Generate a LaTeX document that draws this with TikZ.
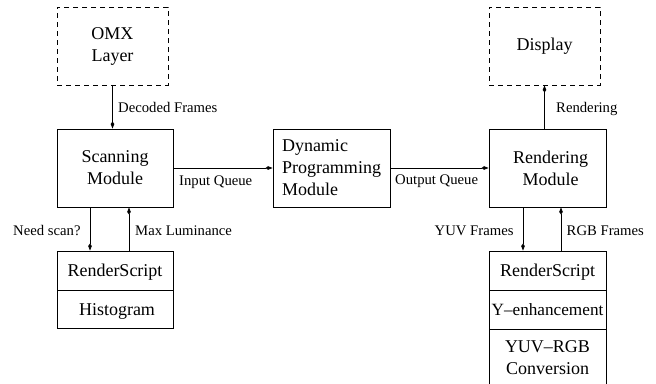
\documentclass[tikz,border=0pt]{standalone}
\usepackage{fontspec}
\newfontfamily\tms{Liberation Serif}[Ligatures=TeX]
\usetikzlibrary{arrows.meta}
\begin{document}
\begin{tikzpicture}[x=1pt,y=-1pt,
  box/.style={draw, line width=0.9pt, inner sep=0pt, align=center, font=\tms\fontsize{18}{22}\selectfont},
  dbox/.style={box, dashed, dash pattern=on 5pt off 4pt},
  lbl/.style={inner sep=0pt, anchor=base west, font=\tms\fontsize{14.7}{17}\selectfont},
  arr/.style={line width=0.9pt, -{Kite[length=7pt,width=3.6pt,inset=2.5pt]}}]
\useasboundingbox (0,0) rectangle (656,383);
\clip (0,0) rectangle (656,383);
% boxes
\node[dbox, minimum width=111pt, minimum height=78pt] (omx) at (112.5,46) {OMX\\Layer};
\node[box, minimum width=116pt, minimum height=78pt] (scan) at (115,168) {Scanning\\Module};
\node[box, minimum width=117pt, minimum height=78pt, align=left] (dp) at (331.5,168) {Dynamic\\Programming\\Module};
\node[box, minimum width=117pt, minimum height=78pt] (rend) at (547.5,168) {\hspace*{6pt}Rendering\\\hspace*{6pt}Module};
\node[dbox, minimum width=111pt, minimum height=78pt] (disp) at (544.5,46) {Display};
% left RenderScript
\node[box, minimum width=116pt, minimum height=39pt, text height=16pt, text depth=4pt] (rsl) at (115,270.5) {RenderScript};
\node[box, minimum width=116pt, minimum height=38pt, text height=16pt, text depth=4pt] (hist) at (115,309) {\hspace*{4pt}Histogram};
% right RenderScript
\node[box, minimum width=117pt, minimum height=39pt, text height=16pt, text depth=4pt] (rsr) at (547.5,270.5) {RenderScript};
\node[box, minimum width=117pt, minimum height=39pt, text height=16pt, text depth=4pt, font=\tms\fontsize{17.2}{21}\selectfont] (yenh) at (547.5,309.5) {Y–enhancement};
\node[box, minimum width=117pt, minimum height=58pt] (conv) at (547.5,358) {YUV–RGB\\Conversion};
% connectors
\draw[arr] (omx.south) -- (omx.south |- scan.north);
\draw[arr] (scan.east) -- (dp.west);
\draw[arr] (dp.east) -- (rend.west);
\draw[arr] (disp.south |- rend.north) -- (disp.south);
\draw[arr] ([xshift=-25pt]scan.south) -- ([xshift=-25pt]scan.south |- rsl.north);
\draw[arr] ([xshift=14pt]rsl.north) -- ([xshift=14pt]rsl.north |- scan.south);
\draw[arr] ([xshift=-24.5pt]rend.south) -- ([xshift=-24.5pt]rend.south |- rsr.north);
\draw[arr] ([xshift=13.5pt]rsr.north) -- ([xshift=13.5pt]rsr.north |- rend.south);
% labels
\node[lbl] (l1) at (118,112.7) {Decoded Frames};
\node[lbl] (l2) at (179,185) {Input Queue};
\node[lbl] (l3) at (395,184.5) {Output Queue};
\node[lbl] (l4) at (556,112.7) {Rendering};
\node[lbl] (l5) at (13,235) {Need scan?};
\node[lbl] (l6) at (135,235) {Max Luminance};
\node[lbl] (l7) at (434.5,235) {YUV Frames};
\node[lbl] (l8) at (566.5,235) {RGB Frames};
\end{tikzpicture}
\end{document}
